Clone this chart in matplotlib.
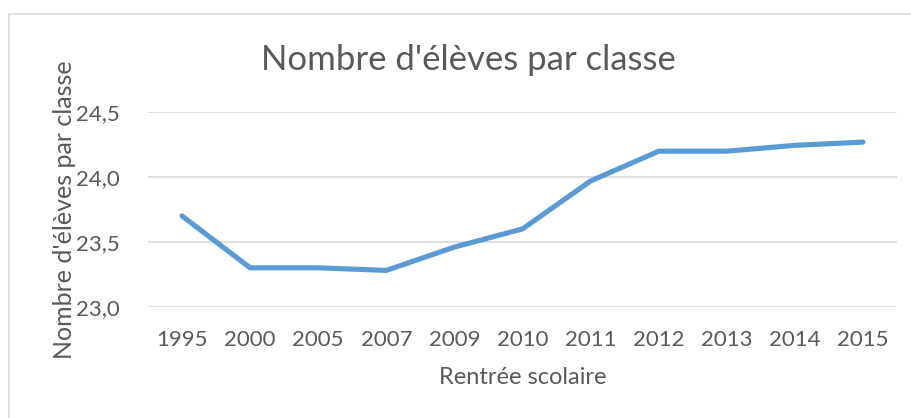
import matplotlib.pyplot as plt
from matplotlib.patches import Rectangle
from matplotlib.ticker import FuncFormatter

# données
annees = ['1995', '2000', '2005', '2007', '2009', '2010', '2011', '2012', '2013', '2014', '2015']
eleves = [23.70, 23.30, 23.30, 23.28, 23.46, 23.60, 23.97, 24.20, 24.20, 24.245, 24.27]
y_ticks = [23.0, 23.5, 24.0, 24.5]

gris_texte = '#595959'
plt.rcParams['font.family'] = ['Lato', 'DejaVu Sans']

fig = plt.figure(figsize=(9.11, 4.18), dpi=100)

# cadre gris autour du graphique
fig.patches.append(Rectangle((9 / 911, -0.1), 1.1, (418 - 14) / 418 + 0.1,
                             transform=fig.transFigure, fill=False,
                             edgecolor='#D9D9D9', linewidth=1.2))

ax = fig.add_axes([148 / 911, (418 - 306.7) / 418, 749 / 911, 194.4 / 418])
x = range(len(annees))
ax.plot(x, eleves, color='#5B9BD5', linewidth=3.7, solid_capstyle='round', solid_joinstyle='round')

ax.set_xlim(-0.5, len(annees) - 0.5)
ax.set_ylim(23.0, 24.5)
ax.set_xticks(list(x))
ax.set_xticklabels(annees)
ax.set_yticks(y_ticks)
ax.yaxis.set_major_formatter(FuncFormatter(lambda v, p: f'{v:.1f}'.replace('.', ',')))
ax.grid(axis='y', color='#D9D9D9', linewidth=1.2)
ax.set_axisbelow(True)
for s in ax.spines.values():
    s.set_visible(False)
ax.tick_params(length=0, labelsize=16, colors=gris_texte)
ax.tick_params(axis='x', pad=17)
ax.tick_params(axis='y', pad=20)

ax.set_xlabel('Rentrée scolaire', fontsize=17, color=gris_texte, labelpad=12)
fig.text(65 / 911, 1 - 210 / 418, "Nombre d'élèves par classe", rotation=90,
         fontsize=18, color=gris_texte, ha='center', va='center')
fig.text(468 / 911, 1 - 60 / 418, "Nombre d'élèves par classe",
         fontsize=25, color=gris_texte, ha='center', va='center')

fig.savefig('out.png', dpi=100)
